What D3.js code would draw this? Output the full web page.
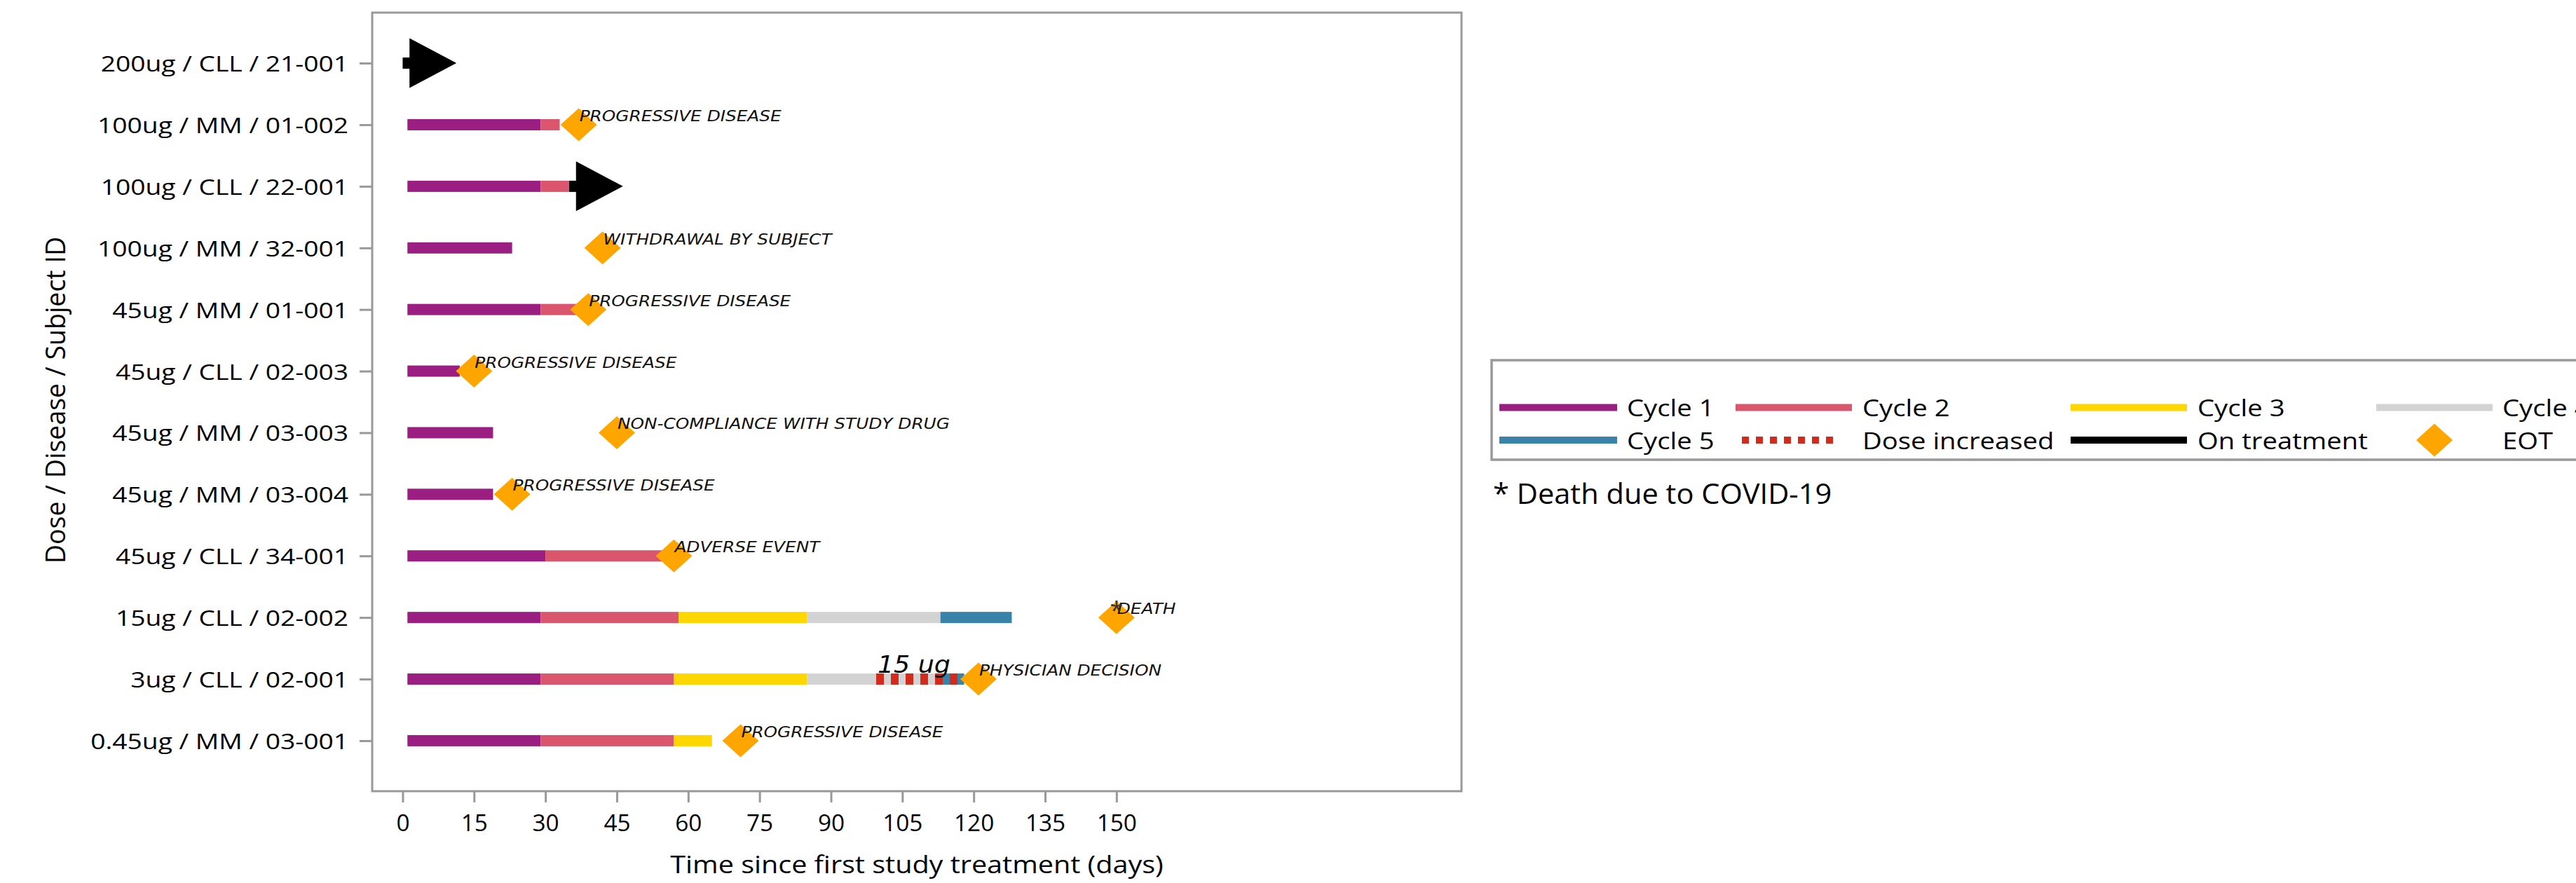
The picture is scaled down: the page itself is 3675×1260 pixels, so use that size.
<!DOCTYPE html>
<html>
<head>
<meta charset="utf-8">
<script src="https://cdn.jsdelivr.net/npm/d3@7"></script>
<style>
  html, body { margin: 0; padding: 0; background: #fff; }
  svg { display: block; }
</style>
</head>
<body>
<svg id="chart" width="3675" height="1260"></svg>
<script>
// ---- Data: one row per subject, top to bottom ----
const subjects = [
  "200ug / CLL / 21-001",
  "100ug / MM / 01-002",
  "100ug / CLL / 22-001",
  "100ug / MM / 32-001",
  "45ug / MM / 01-001",
  "45ug / CLL / 02-003",
  "45ug / MM / 03-003",
  "45ug / MM / 03-004",
  "45ug / CLL / 34-001",
  "15ug / CLL / 02-002",
  "3ug / CLL / 02-001",
  "0.45ug / MM / 03-001"
];

// Treatment cycles as [start day, end day] per subject (null = not reached)
const cycle1 = [null, [1, 29], [1, 29], [1, 23], [1, 29], [1, 12], [1, 19], [1, 19], [1, 30], [1, 29], [1, 29], [1, 29]];
const cycle2 = [null, [29, 33], [29, 35], null, [29, 37], null, null, null, [30, 56], [29, 58], [29, 57], [29, 57]];
const cycle3 = [null, null, null, null, null, null, null, null, null, [58, 85], [57, 85], [57, 65]];
const cycle4 = [null, null, null, null, null, null, null, null, null, [85, 113], [85, 113], null];
const cycle5 = [null, null, null, null, null, null, null, null, null, [113, 128], [113, 118], null];

// Ongoing treatment (arrow tip at end day)
const onTreatment = [[0, 11.3], null, [35, 46.3], null, null, null, null, null, null, null, null, null];

// Dose escalation period and its label
const doseIncreased = [null, null, null, null, null, null, null, null, null, null, [99.5, 118], null];
const doseIncreasedLabel = [null, null, null, null, null, null, null, null, null, null, "15 ug", null];

// End of treatment day and reason
const eotDay = [null, 37, null, 42, 39, 15, 45, 23, 57, 150, 121, 71];
const eotReason = [null, "PROGRESSIVE DISEASE", null, "WITHDRAWAL BY SUBJECT", "PROGRESSIVE DISEASE",
  "PROGRESSIVE DISEASE", "NON-COMPLIANCE WITH STUDY DRUG", "PROGRESSIVE DISEASE", "ADVERSE EVENT",
  "DEATH", "PHYSICIAN DECISION", "PROGRESSIVE DISEASE"];
const covidDeath = [false, false, false, false, false, false, false, false, false, true, false, false];

const xTicks = [0, 15, 30, 45, 60, 75, 90, 105, 120, 135, 150];
const xDomain = [-6.4, 222.5];

const legendRow1 = ["Cycle 1", "Cycle 2", "Cycle 3", "Cycle 4"];
const legendRow2 = ["Cycle 5", "Dose increased", "On treatment", "EOT"];
const footnote = "* Death due to COVID-19";
const xTitle = "Time since first study treatment (days)";
const yTitle = "Dose / Disease / Subject ID";

// ---- Styles ----
const colors = {
  c1: "#9A1F80", c2: "#D9566C", c3: "#FFD700", c4: "#D3D3D3", c5: "#3A83A8",
  dose: "#D22B1E", eot: "#FFA500", on: "#000000", axis: "#999999"
};
const cycleColors = [colors.c1, colors.c2, colors.c3, colors.c4, colors.c5];
const cycles = [cycle1, cycle2, cycle3, cycle4, cycle5];

const plot = { left: 531, right: 2085, top: 18, bottom: 1129 };
const barH = 16;
const sans = "'Open Sans', 'DejaVu Sans', sans-serif";
const annoFont = "'DejaVu Sans', sans-serif";

const svg = d3.select("#chart");

const x = d3.scaleLinear().domain(xDomain).range([plot.left, plot.right]);
const y = d3.scalePoint().domain(subjects).range([plot.top, plot.bottom]).padding(0.82);

// text placed at (px,py) with a horizontal stretch
function stext(g, px, py, str, k) {
  return g.append("text")
    .attr("transform", `translate(${px},${py}) scale(${k},1)`)
    .text(str);
}

// ---- Axes ----
const xAxis = svg.append("g")
  .attr("transform", `translate(0,${plot.bottom})`)
  .call(d3.axisBottom(x).tickValues(xTicks).tickSize(16).tickFormat(d3.format("d")));
xAxis.select(".domain").remove();
xAxis.selectAll(".tick line").attr("stroke", colors.axis).attr("stroke-width", 3);
xAxis.selectAll(".tick text")
  .attr("y", 0).attr("dy", 0)
  .attr("transform", "translate(0,57) scale(1.04,1)")
  .attr("font-family", sans).attr("font-size", 32).attr("fill", "#000");

const yAxis = svg.append("g")
  .attr("transform", `translate(${plot.left},0)`)
  .call(d3.axisLeft(y).tickSize(18));
yAxis.select(".domain").remove();
yAxis.selectAll(".tick line").attr("stroke", colors.axis).attr("stroke-width", 3);
yAxis.selectAll(".tick text")
  .attr("x", 0).attr("dy", 0)
  .attr("transform", "translate(-34,11.5) scale(1.2,1)")
  .attr("font-family", sans).attr("font-size", 31).attr("fill", "#000");

// plot frame
svg.append("rect")
  .attr("x", plot.left).attr("y", plot.top)
  .attr("width", plot.right - plot.left).attr("height", plot.bottom - plot.top)
  .attr("fill", "none").attr("stroke", colors.axis).attr("stroke-width", 3);

// axis titles
stext(svg, (plot.left + plot.right) / 2, 1246, xTitle, 1.13)
  .attr("text-anchor", "middle").attr("font-family", sans).attr("font-size", 35).attr("fill", "#000");
svg.append("text")
  .attr("transform", `translate(93,571) rotate(-90)`)
  .attr("text-anchor", "middle").attr("font-family", sans).attr("font-size", 37.5).attr("fill", "#000")
  .text(yTitle);

// ---- Cycle bars ----
const bars = svg.append("g");
cycles.forEach((arr, ci) => {
  const segs = subjects.map((s, i) => ({ s, seg: arr[i] })).filter(d => d.seg);
  bars.selectAll(null).data(segs).enter().append("rect")
    .attr("x", d => x(d.seg[0]))
    .attr("width", d => x(d.seg[1]) - x(d.seg[0]))
    .attr("y", d => y(d.s) - barH / 2)
    .attr("height", barH)
    .attr("fill", cycleColors[ci]);
});

// ---- Dose increased (dashed) ----
const doseData = subjects.map((s, i) => ({ s, seg: doseIncreased[i], label: doseIncreasedLabel[i] })).filter(d => d.seg);
svg.append("g").selectAll(null).data(doseData).enter().append("line")
  .attr("x1", d => x(d.seg[0])).attr("x2", d => x(d.seg[1]))
  .attr("y1", d => y(d.s)).attr("y2", d => y(d.s))
  .attr("stroke", colors.dose).attr("stroke-width", barH).attr("stroke-dasharray", "11 10");
doseData.forEach(d => {
  stext(svg, x(d.seg[0]) + 2, y(d.s) - 9, d.label, 1.1)
    .attr("font-family", annoFont).attr("font-style", "italic").attr("font-size", 33).attr("fill", "#000");
});

// ---- On treatment with arrow ----
const arrowLen = 67, arrowHalf = 35.5;
const onData = subjects.map((s, i) => ({ s, seg: onTreatment[i] })).filter(d => d.seg);
const onG = svg.append("g");
onG.selectAll(null).data(onData).enter().append("rect")
  .attr("x", d => x(d.seg[0]))
  .attr("width", d => Math.max(0, x(d.seg[1]) - arrowLen - x(d.seg[0])) + 1)
  .attr("y", d => y(d.s) - barH / 2).attr("height", barH)
  .attr("fill", colors.on);
onG.selectAll(null).data(onData).enter().append("path")
  .attr("d", d => {
    const tx = x(d.seg[1]), cy = y(d.s);
    return `M${tx - arrowLen},${cy - arrowHalf}L${tx},${cy}L${tx - arrowLen},${cy + arrowHalf}Z`;
  })
  .attr("fill", colors.on);

// ---- EOT diamonds and reasons ----
const diamond = "M0,-23.5L26,0L0,23.5L-26,0Z";
const eotData = subjects.map((s, i) => ({ s, day: eotDay[i], reason: eotReason[i], covid: covidDeath[i] })).filter(d => d.day != null);
const eotG = svg.append("g");
eotG.selectAll(null).data(eotData).enter().append("path")
  .attr("d", diamond)
  .attr("transform", d => `translate(${x(d.day)},${y(d.s)})`)
  .attr("fill", colors.eot);
eotData.forEach(d => {
  stext(eotG, x(d.day) + 1, y(d.s) - 5, d.reason, 1.18)
    .attr("font-family", annoFont).attr("font-style", "italic").attr("font-size", 21).attr("fill", "#111");
  if (d.covid) {
    eotG.append("text")
      .attr("x", x(d.day)).attr("y", y(d.s) + 2)
      .attr("text-anchor", "middle").attr("font-family", sans).attr("font-size", 34).attr("fill", "#333")
      .text("*");
  }
});

// ---- Legend ----
const leg = svg.append("g");
leg.append("rect")
  .attr("x", 2128).attr("y", 514).attr("width", 1700).attr("height", 142)
  .attr("fill", "none").attr("stroke", colors.axis).attr("stroke-width", 3.5);

const colSwatch = [[2139, 2307], [2476, 2642], [2954, 3120], [3390, 3556]];
const colText = [2321, 2657, 3135, 3570];
const rowY = [581.5, 628];
const row1Colors = [colors.c1, colors.c2, colors.c3, colors.c4];

legendRow1.forEach((lab, i) => {
  leg.append("line")
    .attr("x1", colSwatch[i][0]).attr("x2", colSwatch[i][1])
    .attr("y1", rowY[0]).attr("y2", rowY[0])
    .attr("stroke", row1Colors[i]).attr("stroke-width", 10);
  stext(leg, colText[i], rowY[0] + 12.5, lab, 1.16)
    .attr("font-family", sans).attr("font-size", 33).attr("fill", "#000");
});

// row 2: cycle 5, dose increased, on treatment, EOT
leg.append("line")
  .attr("x1", colSwatch[0][0]).attr("x2", colSwatch[0][1])
  .attr("y1", rowY[1]).attr("y2", rowY[1])
  .attr("stroke", colors.c5).attr("stroke-width", 10);
leg.append("line")
  .attr("x1", 2485).attr("x2", 2625)
  .attr("y1", rowY[1]).attr("y2", rowY[1])
  .attr("stroke", colors.dose).attr("stroke-width", 10).attr("stroke-dasharray", "10 10");
leg.append("line")
  .attr("x1", colSwatch[2][0]).attr("x2", colSwatch[2][1])
  .attr("y1", rowY[1]).attr("y2", rowY[1])
  .attr("stroke", colors.on).attr("stroke-width", 10);
leg.append("path")
  .attr("d", diamond)
  .attr("transform", `translate(${(colSwatch[3][0] + colSwatch[3][1]) / 2},${rowY[1]})`)
  .attr("fill", colors.eot);
legendRow2.forEach((lab, i) => {
  stext(leg, colText[i], rowY[1] + 12.5, lab, 1.16)
    .attr("font-family", sans).attr("font-size", 33).attr("fill", "#000");
});

// footnote
stext(svg, 2130, 719, footnote, 1.04)
  .attr("font-family", sans).attr("font-size", 40).attr("fill", "#000");
</script>
</body>
</html>
